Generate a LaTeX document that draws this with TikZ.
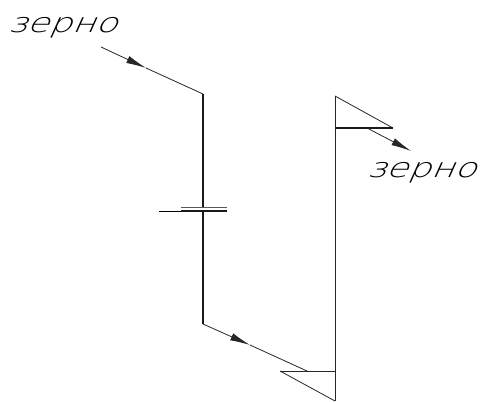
\documentclass[tikz,border=0pt]{standalone}
\usepackage{fontspec}
\newfontfamily\grainfont{DejaVu Sans ExtraLight}
\usetikzlibrary{arrows.meta}
\begin{document}
\begin{tikzpicture}[x=1pt,y=-1pt,
  flow/.style={line width=0.8pt,black!85},
  wall/.style={line width=1pt,black!85},
  tube/.style={line width=1.5pt,black!90},
  head/.style={-{Latex[length=20pt,width=7.5pt]}},
  grain/.style={font=\grainfont\fontsize{27}{27}\selectfont,inner sep=0pt,anchor=base west,
                xslant=0.45,xscale=1.33,transform shape}]
  \useasboundingbox (0,0) rectangle (484,402);
  % points of the line
  \coordinate (inlet) at (101,47);
  \coordinate (inlethead) at (146,68);
  \coordinate (tubetop) at (203,94);
  \coordinate (sealtop) at (203,207);
  \coordinate (sealbot) at (203,211);
  \coordinate (tubebot) at (203,324);
  \coordinate (feedhead) at (250,345);
  \coordinate (feedend) at (307,371);
  \coordinate (walltop) at (335,96);
  \coordinate (wallbot) at (335,401);
  \coordinate (lowtip) at (280,371);
  \coordinate (lowroot) at (335,371);
  \coordinate (uptip) at (393,128);
  \coordinate (uproot) at (335,128);
  \coordinate (outstart) at (367,128);
  \coordinate (outhead) at (411,151);
  \node[grain] (grainin) at (7,32) {зерно};
  \node[grain] (grainout) at (366,177) {зерно};
  % incoming flow and tube
  \draw[flow,head] (inlet) -- (inlethead);
  \draw[flow] (inlethead) -- (tubetop);
  \draw[tube] (tubetop) -- (sealtop);
  \draw[tube] (sealbot) -- (tubebot);
  \draw[flow,head] (tubebot) -- (feedhead);
  \draw[flow] (feedhead) -- (feedend);
  % seal
  \draw[line width=1pt,black!65] (181,207) -- (227,207);
  \draw[line width=0.8pt] (159,211) -- (181,211);
  \draw[tube] (181,211) -- (227,211);
  % elevator wall and flaps
  \draw[wall] (walltop) -- (wallbot);
  \draw[flow] (walltop) -- (uptip);
  \draw[tube] (uproot) -- (uptip);
  \draw[flow] (lowtip) -- (lowroot);
  \draw[flow] (lowtip) -- (wallbot);
  \draw[flow,head] (outstart) -- (outhead);
\end{tikzpicture}
\end{document}
